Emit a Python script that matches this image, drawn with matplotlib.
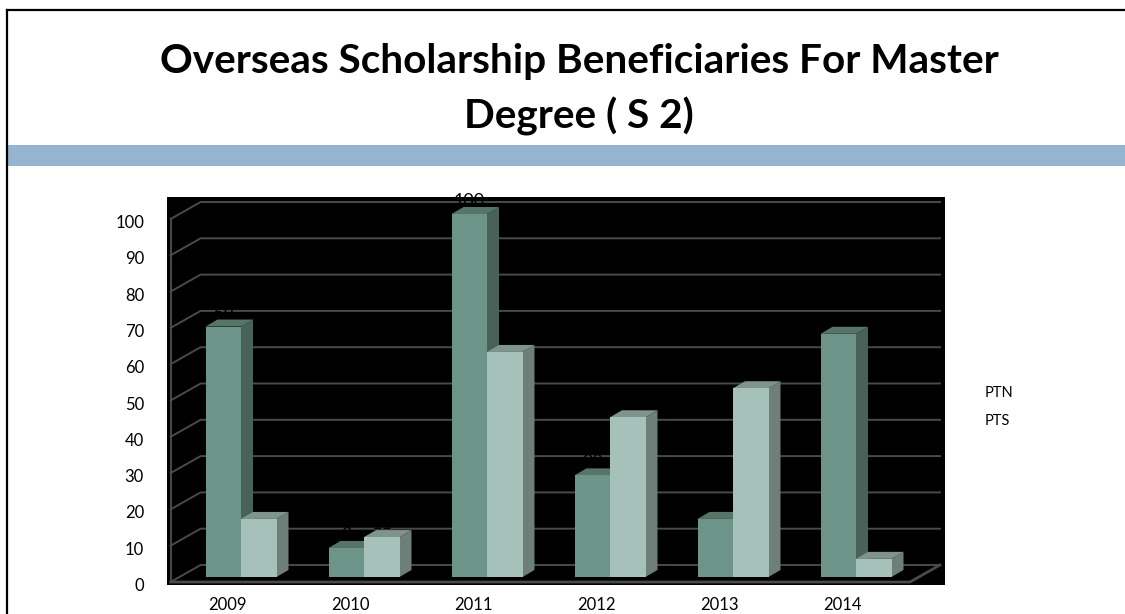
import matplotlib
matplotlib.use("Agg")
import matplotlib.pyplot as plt
from matplotlib.lines import Line2D
from matplotlib.patches import Rectangle

years = ["2009", "2010", "2011", "2012", "2013", "2014"]
ptn = [69, 8, 100, 28, 16, 67]
pts = [16, 11, 62, 44, 52, 5]
y_ticks = [0, 10, 20, 30, 40, 50, 60, 70, 80, 90, 100]
title = "Overseas Scholarship Beneficiaries For Master\nDegree ( S 2)"

W, H = 1125, 614
plt.rcParams['font.family'] = ['Lato', 'DejaVu Sans']

fig = plt.figure(figsize=(W / 100, H / 100), dpi=100, facecolor="white")


def px_box(x0, y0, x1, y1):
    return [x0 / W, 1 - y1 / H, (x1 - x0) / W, (y1 - y0) / H]


# slide furniture
fig.add_artist(Line2D([7 / W, 7 / W], [0, 1 - 10 / H], color="black", lw=1.6))
fig.add_artist(Line2D([7 / W, 1], [1 - 10 / H, 1 - 10 / H], color="black", lw=1.6))
fig.add_artist(Rectangle((7 / W, 1 - 166 / H), 1 - 7 / W, 21 / H, color="#95B4D0", lw=0))
fig.text(579 / W, 1 - 89.5 / H, title, ha="center", va="center", fontsize=29.2,
         fontweight="bold", linespacing=1.53, color="black")

ax = fig.add_axes(px_box(167, 197, 945, 585), facecolor="black")
px_x = 123.0   # pixels per category
px_y = 3.63    # pixels per value unit
ax.set_xlim((167 - 241) / px_x, (945 - 241) / px_x)
ax.set_ylim(-8 / px_y, 380 / px_y)

dx = 30 / px_x     # wall depth
dy_lo = -5 / px_y  # front edge of gridlines relative to value
dy_hi = 12 / px_y  # back edge of gridlines relative to value
x_front = (170.6 - 241) / px_x
x_back = x_front + dx
x_end = (940 - 241) / px_x
grid_c = "#4a4a4a"

for v in y_ticks:
    ax.plot([x_front, x_back, x_end], [v + dy_lo, v + dy_hi, v + dy_hi], color=grid_c, lw=1.4,
            solid_joinstyle="miter", zorder=1)
ax.plot([x_front, x_front], [dy_lo, 100 + dy_lo], color=grid_c, lw=1.4, zorder=1)
ax.plot([x_front, x_end - dx, x_end], [dy_lo, dy_lo, dy_hi], color=grid_c, lw=2, zorder=1)

bar_w = 35.5 / px_x
bd_x = 12 / px_x
bd_y = 7 / px_y


def bar3d(x0, val, front, side, top, z):
    x1 = x0 + bar_w
    ax.fill([x1, x1 + bd_x, x1 + bd_x, x1], [0, bd_y, val + bd_y, val], color=side, lw=0, zorder=z)
    ax.fill([x0, x1, x1 + bd_x, x0 + bd_x], [val, val, val + bd_y, val + bd_y], color=top, lw=0, zorder=z)
    ax.fill([x0, x1, x1, x0], [0, 0, val, val], color=front, lw=0, zorder=z)
    # black labels behind the bars, they only show against the gridlines
    ax.text(x0 + bar_w / 2, val + 13 / px_y, str(val), ha="center", va="center", fontsize=13,
            color="black", zorder=2, clip_on=False)


for i in range(len(years)):
    bar3d(i - bar_w, ptn[i], "#6D9488", "#48625A", "#567568", 3 + i * 2)
    bar3d(i, pts[i], "#A6C1B9", "#6E7F79", "#7F948C", 4 + i * 2)

ax.set_xticks([i - 14 / px_x for i in range(len(years))])
ax.set_xticklabels(years, fontsize=12)
ax.set_yticks([])
ax.tick_params(axis="x", length=0, pad=9)
for s in ax.spines.values():
    s.set_visible(False)

# y labels sit a bit under the front edge of each gridline
for v in y_ticks:
    ax.text(-97 / px_x, v - 9 / px_y, str(v), ha="right", va="center", fontsize=12, clip_on=False)

for name, y in zip(["PTN", "PTS"], [393, 421]):
    fig.text(985 / W, 1 - y / H, name, ha="left", va="center", fontsize=10.5)

fig.savefig("out.png", dpi=100, facecolor="white")
